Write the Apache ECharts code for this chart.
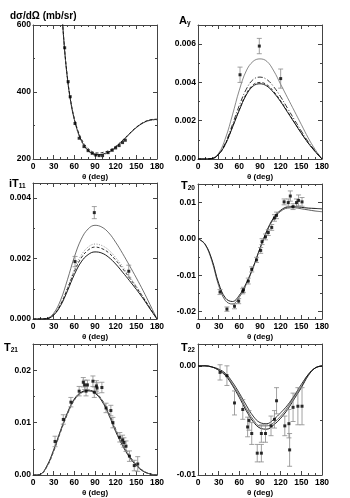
<!DOCTYPE html>
<html>
<head>
<meta charset="utf-8">
<script src="https://cdn.jsdelivr.net/npm/echarts@6/dist/echarts.min.js"></script>
<style>html,body{margin:0;padding:0;background:#fff;}</style>
</head>
<body>
<div id="main" style="width:350px;height:498px;"></div>
<script>
// theta grid for the model curves (deg)
var ang = [0, 10, 20, 30, 40, 50, 60, 70, 80, 90, 100, 110, 120, 130, 140, 150, 160, 170, 180];

// dsigma/dOmega (mb/sr)
var xsAng = [40, 45, 50, 55, 60, 65, 70, 75, 80, 85, 90, 95, 100, 110, 120, 130, 140, 150, 160, 170, 180];
var xsA = [700, 548, 440, 368, 318, 282, 256, 238, 226, 218, 214, 213, 214, 221, 235, 254, 275, 294, 308, 316, 318];
var xsB = [700, 550, 443, 371, 321, 286, 261, 243, 231, 223, 219, 218, 219, 225, 238, 256, 276, 295, 309, 317, 319];
var xsC = [700, 546, 438, 366, 316, 280, 254, 235, 223, 215, 211, 210, 212, 219, 233, 253, 274, 293, 307, 315, 317];
var xsTh = [46, 51, 54, 61, 67, 74, 80, 86, 91, 96, 101, 109, 115, 120, 125, 130, 134];
var xsVal = [532, 431, 386, 306, 262, 237, 225, 217, 212, 210, 210, 219, 226, 233, 240, 249, 256];

// A_y
var ayA = [0, 0, 0.00003, 0.0003, 0.0011, 0.0023, 0.0036, 0.0046, 0.0051, 0.00523, 0.0051, 0.0046, 0.0039, 0.0032, 0.0025, 0.0018, 0.0011, 0.0005, 0];
var ayB = [0, 0, 0.00002, 0.00026, 0.00086, 0.0018, 0.0028, 0.00364, 0.00415, 0.00428, 0.00415, 0.00377, 0.00325, 0.00265, 0.00205, 0.00146, 0.0009, 0.00043, 0];
var ayC = [0, 0, 0.00002, 0.00024, 0.0008, 0.00168, 0.0026, 0.0034, 0.00388, 0.004, 0.00388, 0.00352, 0.00304, 0.00248, 0.00192, 0.00136, 0.00084, 0.0004, 0];
var ayD = [0, 0, 0.00002, 0.00024, 0.00079, 0.00165, 0.00255, 0.00334, 0.00381, 0.00393, 0.00381, 0.00346, 0.00299, 0.00244, 0.00189, 0.00134, 0.00083, 0.00039, 0];
var ayTh = [61, 89, 120];
var ayVal = [0.0044, 0.0059, 0.0042];
var ayErr = [0.0004, 0.0004, 0.0005];

// iT_11
var itA = [0, 0, 0.00002, 0.00019, 0.00062, 0.0013, 0.00205, 0.00264, 0.00298, 0.0031, 0.00304, 0.00285, 0.00254, 0.00217, 0.00177, 0.00136, 0.00093, 0.00047, 0];
var itB = [0, 0, 0.00001, 0.00015, 0.0005, 0.00104, 0.00164, 0.00211, 0.00238, 0.00248, 0.00243, 0.00228, 0.00203, 0.00174, 0.00141, 0.00109, 0.00074, 0.00037, 0];
var itC = [0, 0, 0.00001, 0.00014, 0.00048, 0.001, 0.00157, 0.00202, 0.00228, 0.00238, 0.00233, 0.00219, 0.00195, 0.00167, 0.00136, 0.00105, 0.00071, 0.00036, 0];
var itD = [0, 0, 0.00001, 0.00013, 0.00044, 0.00093, 0.00147, 0.00189, 0.00213, 0.00222, 0.00218, 0.00204, 0.00182, 0.00155, 0.00127, 0.00098, 0.00067, 0.00033, 0];
var itTh = [61, 89, 139];
var itVal = [0.0019, 0.00352, 0.00158];
var itErr = [0.00017, 0.0002, 0.0002];

// T_20
var t20A = [0, -0.0014, -0.0056, -0.0122, -0.0163, -0.0172, -0.0155, -0.0122, -0.0078, -0.0026, 0.0022, 0.0058, 0.0078, 0.0087, 0.0088, 0.0086, 0.0084, 0.0083, 0.0082];
var t20B = [0, -0.0015, -0.006, -0.0128, -0.017, -0.0179, -0.016, -0.0125, -0.008, -0.0027, 0.002, 0.0055, 0.0075, 0.0084, 0.0085, 0.0082, 0.0079, 0.0076, 0.0074];
var t20Th = [32, 42, 53, 59, 65, 66, 73, 78, 85, 91, 93, 98, 102, 107, 111, 114, 125, 131, 134, 138, 143, 146, 151];
var t20Val = [-0.0146, -0.0193, -0.0185, -0.0171, -0.0144, -0.0140, -0.0116, -0.0084, -0.0058, -0.0032, -0.0008, 0.0005, 0.0017, 0.0031, 0.0057, 0.0064, 0.0101, 0.0099, 0.0117, 0.0088, 0.0099, 0.0105, 0.0101];
var t20Err = [0.0007, 0.0006, 0.0007, 0.0007, 0.0007, 0.0007, 0.0008, 0.0007, 0.0007, 0.0008, 0.0008, 0.0008, 0.0008, 0.0008, 0.0009, 0.0009, 0.0008, 0.0010, 0.0014, 0.0008, 0.0010, 0.0015, 0.0012];

// T_21
var t21A = [0, 0.0001, 0.0017, 0.0048, 0.0085, 0.0119, 0.0145, 0.0158, 0.0161, 0.0156, 0.0141, 0.0115, 0.0083, 0.0056, 0.0034, 0.0018, 0.0007, 0.0002, 0];
var t21B = [0, 0.0001, 0.0015, 0.0045, 0.0082, 0.0116, 0.0143, 0.0157, 0.0162, 0.0158, 0.0144, 0.0119, 0.0088, 0.0060, 0.0037, 0.0020, 0.0008, 0.0002, 0];
var t21C = [0, 0.0001, 0.0016, 0.0046, 0.0083, 0.0117, 0.0143, 0.0156, 0.016, 0.0157, 0.0143, 0.0117, 0.0086, 0.0058, 0.0036, 0.0019, 0.0008, 0.0002, 0];
var t21Th = [32, 44, 55, 67, 73, 75, 77, 79, 87, 89, 92, 93, 100, 106, 113, 116, 126, 130, 132, 135, 140, 147, 152];
var t21Val = [0.0064, 0.0106, 0.0139, 0.0160, 0.0177, 0.0172, 0.0160, 0.0172, 0.0179, 0.0158, 0.0170, 0.0166, 0.0167, 0.0128, 0.0123, 0.0100, 0.0072, 0.0067, 0.0062, 0.0055, 0.0036, 0.0018, 0.0021];
var t21Err = [0.0010, 0.0009, 0.0009, 0.0009, 0.0009, 0.0009, 0.0009, 0.0009, 0.0010, 0.0010, 0.0010, 0.0010, 0.0010, 0.0009, 0.0010, 0.0010, 0.0009, 0.0009, 0.0009, 0.0010, 0.0010, 0.0010, 0.0014];

// T_22
var t22A = [0, 0, -0.0001, -0.0004, -0.0009, -0.0018, -0.0029, -0.0041, -0.0051, -0.0057, -0.0058, -0.0054, -0.0048, -0.0040, -0.0030, -0.0020, -0.0009, -0.0002, 0];
var t22B = [0, 0, -0.0001, -0.0004, -0.0008, -0.0017, -0.0027, -0.0039, -0.0049, -0.0055, -0.0055, -0.0052, -0.0046, -0.0038, -0.0028, -0.0019, -0.0008, -0.0002, 0];
var t22C = [0, 0, -0.0001, -0.0003, -0.0007, -0.0015, -0.0025, -0.0036, -0.0046, -0.0052, -0.0053, -0.0049, -0.0043, -0.0036, -0.0027, -0.0017, -0.0008, -0.0002, 0];
var t22Th = [32, 42, 53, 65, 72, 74, 78, 86, 92, 92, 98, 106, 111, 114, 126, 132, 133, 138, 145, 151];
var t22Val = [-0.0006, -0.0009, -0.0034, -0.0040, -0.0056, -0.0050, -0.0062, -0.0080, -0.0080, -0.0062, -0.0062, -0.0055, -0.0049, -0.0032, -0.0055, -0.0053, -0.0077, -0.0038, -0.0037, -0.0037];
var t22Err = [0.0007, 0.0009, 0.0011, 0.0009, 0.0009, 0.0009, 0.0010, 0.0008, 0.0008, 0.0008, 0.0008, 0.0009, 0.0008, 0.0012, 0.0009, 0.0013, 0.0015, 0.0013, 0.0017, 0.0017];

var myChart = echarts.init(document.getElementById('main'));

var grids = [
    {left: 33, top: 25, width: 124, height: 134},
    {left: 198, top: 25, width: 124, height: 134},
    {left: 33, top: 183, width: 124, height: 136},
    {left: 198, top: 184, width: 124, height: 135},
    {left: 33, top: 344, width: 124, height: 133},
    {left: 198, top: 344, width: 124, height: 133}
];
var yRanges = [
    {min: 200, max: 600, interval: 200, dec: 0},
    {min: 0, max: 0.007, interval: 0.002, dec: 3},
    {min: 0, max: 0.0045, interval: 0.002, dec: 3},
    {min: -0.022, max: 0.015, interval: 0.01, dec: 2},
    {min: 0, max: 0.025, interval: 0.01, dec: 2},
    {min: -0.01, max: 0.002, interval: 0.01, dec: 2}
];

// T20 range does not start on a tick: its ticks go on an overlay grid
// spanning -0.02 .. 0.01 inside panel 3
(function () {
    var g = grids[3], r = yRanges[3];
    var k = g.height / (r.max - r.min);
    grids.push({left: g.left, top: g.top + (r.max - 0.01) * k, width: g.width, height: 0.03 * k});
})();

var frameColor = '#444';
var tickFont = {fontSize: 8.5, fontWeight: 'bold', color: '#000', fontFamily: 'Liberation Sans Narrow, Liberation Sans, Arial'};

function fmt(dec) {
    return function (v) {
        if (Math.abs(v) < 1e-12) v = 0;
        return v.toFixed(dec);
    };
}

var xAxes = [], yAxes = [];
for (var i = 0; i < 6; i++) {
    var base = {
        gridIndex: i, type: 'value', min: 0, max: 180, interval: 30,
        axisLine: {show: true, onZero: false, lineStyle: {color: frameColor, width: 1}},
        axisTick: {show: true, inside: true, length: 4, lineStyle: {color: frameColor}},
        minorTick: {show: true, splitNumber: 3, length: 2, lineStyle: {color: frameColor}},
        splitLine: {show: false}
    };
    xAxes.push(Object.assign({}, base, {
        position: 'bottom',
        axisLabel: Object.assign({margin: 3}, tickFont),
        name: 'θ (deg)', nameLocation: 'middle', nameGap: 14,
        nameTextStyle: {fontSize: 8, fontWeight: 'bold', color: '#000', fontFamily: 'Liberation Sans, Arial'}
    }));
    xAxes.push(Object.assign({}, base, {position: 'top', axisLabel: {show: false}}));

    var r = yRanges[i];
    var plain = (i === 3);
    var ybase = {
        gridIndex: i, type: 'value', min: r.min, max: r.max, interval: r.interval,
        axisLine: {show: true, onZero: false, lineStyle: {color: frameColor, width: 1}},
        axisTick: {show: !plain, inside: true, length: 4, lineStyle: {color: frameColor}},
        minorTick: {show: !plain, splitNumber: 2, length: 2, lineStyle: {color: frameColor}},
        splitLine: {show: false}
    };
    yAxes.push(Object.assign({}, ybase, {
        position: 'left',
        axisLabel: Object.assign({
            show: !plain, margin: 2, showMaxLabel: (i === 0), formatter: fmt(r.dec)
        }, tickFont)
    }));
    yAxes.push(Object.assign({}, ybase, {position: 'right', axisLabel: {show: false}}));
}
// overlay axes for the T20 ticks (grid 6)
xAxes.push({gridIndex: 6, type: 'value', min: 0, max: 180, show: false});
var ovl = {
    gridIndex: 6, type: 'value', min: -0.02, max: 0.01, interval: 0.01,
    axisLine: {show: false, onZero: false},
    axisTick: {show: true, inside: true, length: 4, lineStyle: {color: frameColor}},
    minorTick: {show: true, splitNumber: 2, length: 2, lineStyle: {color: frameColor}},
    splitLine: {show: false}
};
yAxes.push(Object.assign({}, ovl, {position: 'left', axisLabel: Object.assign({margin: 2, formatter: fmt(2)}, tickFont)}));
yAxes.push(Object.assign({}, ovl, {position: 'right', axisLabel: {show: false}}));

function curve(g, xs, ys, style) {
    return {
        type: 'line', xAxisIndex: g * 2, yAxisIndex: g * 2,
        data: xs.map(function (x, i) { return [x, ys[i]]; }),
        smooth: 0.4, symbol: 'none', silent: true, clip: true,
        lineStyle: Object.assign({color: '#000', width: 0.9}, style)
    };
}
function points(g, xs, ys) {
    return {
        type: 'scatter', xAxisIndex: g * 2, yAxisIndex: g * 2, z: 5,
        data: xs.map(function (x, i) { return [x, ys[i]]; }),
        symbol: 'rect', symbolSize: 3, itemStyle: {color: '#000'}
    };
}
function errors(g, xs, ys, es) {
    return {
        type: 'custom', xAxisIndex: g * 2, yAxisIndex: g * 2, z: 4,
        data: xs.map(function (x, i) { return [x, ys[i] - es[i], ys[i] + es[i]]; }),
        encode: {x: 0, y: [1, 2]},
        renderItem: function (params, api) {
            var lo = api.coord([api.value(0), api.value(1)]);
            var hi = api.coord([api.value(0), api.value(2)]);
            var st = {stroke: '#8a8a8a', lineWidth: 0.8};
            return {
                type: 'group', children: [
                    {type: 'line', shape: {x1: lo[0], y1: lo[1], x2: hi[0], y2: hi[1]}, style: st},
                    {type: 'line', shape: {x1: lo[0] - 2.5, y1: lo[1], x2: lo[0] + 2.5, y2: lo[1]}, style: st},
                    {type: 'line', shape: {x1: hi[0] - 2.5, y1: hi[1], x2: hi[0] + 2.5, y2: hi[1]}, style: st}
                ]
            };
        }
    };
}

var dashDot = [5, 2, 1, 2];
var series = [
    curve(0, xsAng, xsA, {}),
    curve(0, xsAng, xsB, {type: [3, 2], width: 0.8}),
    curve(0, xsAng, xsC, {type: [1, 1.5], color: '#555', width: 0.8}),
    points(0, xsTh, xsVal),

    curve(1, ang, ayA, {color: '#555', width: 0.7}),
    curve(1, ang, ayB, {type: dashDot, width: 0.8}),
    curve(1, ang, ayC, {type: [3, 2], width: 0.8}),
    curve(1, ang, ayD, {}),
    errors(1, ayTh, ayVal, ayErr),
    points(1, ayTh, ayVal),

    curve(2, ang, itA, {color: '#333', width: 0.7}),
    curve(2, ang, itB, {type: [1, 1.5], color: '#888', width: 0.9}),
    curve(2, ang, itC, {type: [3, 2], width: 0.8}),
    curve(2, ang, itD, {}),
    errors(2, itTh, itVal, itErr),
    points(2, itTh, itVal),

    curve(3, ang, t20A, {}),
    curve(3, ang, t20B, {color: '#333', width: 0.8}),
    errors(3, t20Th, t20Val, t20Err),
    points(3, t20Th, t20Val),

    curve(4, ang, t21A, {}),
    curve(4, ang, t21B, {type: [3, 2], width: 0.7}),
    curve(4, ang, t21C, {color: '#666', width: 0.7}),
    errors(4, t21Th, t21Val, t21Err),
    points(4, t21Th, t21Val),

    curve(5, ang, t22A, {}),
    curve(5, ang, t22B, {color: '#444', width: 0.8}),
    curve(5, ang, t22C, {width: 0.8}),
    errors(5, t22Th, t22Val, t22Err),
    points(5, t22Th, t22Val)
];

var rich = {
    m: {fontSize: 11, fontWeight: 'bold', color: '#000', fontFamily: 'Liberation Sans, Arial'},
    s: {fontSize: 6.5, fontWeight: 'bold', color: '#000', fontFamily: 'Liberation Sans, Arial', verticalAlign: 'bottom', padding: [6, 0, 0, 0]}
};
function label(text, left, top) {
    return {text: text, left: left, top: top, padding: 0, textStyle: {rich: rich}};
}

var option = {
    animation: false,
    grid: grids,
    xAxis: xAxes,
    yAxis: yAxes,
    title: [
        {text: 'dσ/dΩ (mb/sr)', left: 10, top: 11, padding: 0,
         textStyle: {fontSize: 10, fontWeight: 'bold', color: '#000', fontFamily: 'Liberation Sans, Arial'}},
        label('{m|A}{s|y}', 179, 14),
        label('{m|iT}{s|11}', 9, 177),
        label('{m|T}{s|20}', 181, 179),
        label('{m|T}{s|21}', 4, 341),
        label('{m|T}{s|22}', 181, 341)
    ],
    series: series
};
myChart.setOption(option);
</script>
</body>
</html>
